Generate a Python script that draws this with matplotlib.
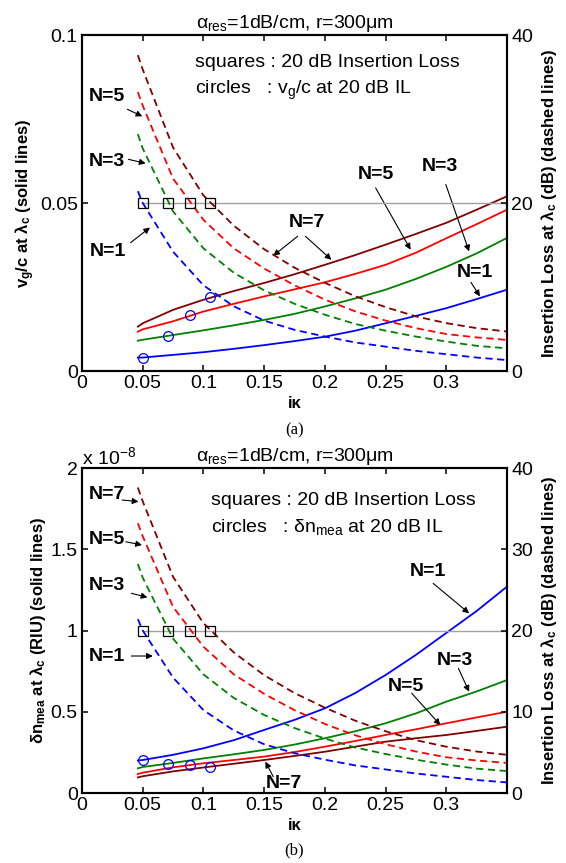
import numpy as np
import matplotlib.pyplot as plt

plt.rcParams['font.family'] = ['Liberation Sans', 'DejaVu Sans']
plt.rcParams['mathtext.default'] = 'regular'

# coupling coefficient grid
kappa = [0.046, 0.05, 0.075, 0.1, 0.125, 0.15, 0.175, 0.2, 0.225, 0.25, 0.275, 0.3, 0.325, 0.35]

# (a) group velocity v_g/c (solid)
vg_n1 = [0.0040, 0.0040, 0.0048, 0.0056, 0.0066, 0.0077, 0.0089, 0.0102, 0.0120, 0.0142, 0.0164, 0.0187, 0.0214, 0.0242]
vg_n3 = [0.0090, 0.0093, 0.0107, 0.0121, 0.0136, 0.0152, 0.0170, 0.0192, 0.0216, 0.0242, 0.0274, 0.0310, 0.0350, 0.0396]
vg_n5 = [0.0117, 0.0124, 0.0148, 0.0177, 0.0200, 0.0222, 0.0243, 0.0264, 0.0289, 0.0316, 0.0352, 0.0395, 0.0437, 0.0480]
vg_n7 = [0.0132, 0.0142, 0.0182, 0.0212, 0.0238, 0.0262, 0.0288, 0.0316, 0.0345, 0.0376, 0.0408, 0.0441, 0.0480, 0.0520]

# (b) minimum detectable index change, units of 1e-8 (solid)
dn_n1 = [0.200, 0.203, 0.235, 0.275, 0.325, 0.388, 0.450, 0.521, 0.615, 0.726, 0.850, 0.985, 1.120, 1.270]
dn_n3 = [0.152, 0.160, 0.185, 0.213, 0.238, 0.265, 0.298, 0.337, 0.380, 0.429, 0.490, 0.562, 0.625, 0.695]
dn_n5 = [0.117, 0.125, 0.158, 0.183, 0.203, 0.224, 0.252, 0.285, 0.320, 0.357, 0.392, 0.429, 0.465, 0.500]
dn_n7 = [0.096, 0.103, 0.133, 0.157, 0.180, 0.203, 0.228, 0.254, 0.285, 0.316, 0.337, 0.357, 0.382, 0.408]

# insertion loss at lambda_c in dB (dashed), same in both panels
il_n1 = [21.4, 20.0, 14.2, 10.2, 7.7, 6.0, 4.9, 4.1, 3.4, 2.9, 2.4, 2.0, 1.6, 1.3]
il_n3 = [28.2, 26.5, 19.0, 14.6, 11.7, 9.6, 8.0, 6.7, 5.6, 4.8, 4.1, 3.5, 3.0, 2.7]
il_n5 = [33.2, 31.6, 22.9, 18.0, 14.6, 12.2, 10.2, 8.5, 7.1, 6.0, 5.1, 4.4, 4.0, 3.7]
il_n7 = [37.6, 35.9, 26.6, 20.9, 17.3, 14.5, 12.3, 10.5, 8.9, 7.6, 6.5, 5.7, 5.1, 4.7]

# 20 dB insertion loss points
kappa_20dB = [0.05, 0.071, 0.089, 0.105]
il_20dB = [20, 20, 20, 20]
vg_20dB = [0.0040, 0.0105, 0.0166, 0.0220]
dn_20dB = [0.203, 0.178, 0.170, 0.162]

colors = ["#0000ff", "#008000", "#ff0000", "#800000"]

W, H = 566, 863
fig = plt.figure(figsize=(W / 100, H / 100), dpi=100)
L, R = 82, 507
ax_a = fig.add_axes([L / W, 1 - 371 / H, (R - L) / W, (371 - 35) / H])
ax_b = fig.add_axes([L / W, 1 - 793 / H, (R - L) / W, (793 - 468) / H])

title = "α$_{res}$=1dB/cm, r=300μm"
tick_fs = 14
lab_fs = 12
ann_fs = 14
txt_fs = 14


def setup(ax, ylim, yticks, ylabels, r_ticks, left_label):
    ax2 = ax.twinx()
    ax.set_xlim(0, 0.35)
    ax.set_ylim(*ylim)
    ax2.set_ylim(0, 40)
    ax.set_xticks([0, 0.05, 0.1, 0.15, 0.2, 0.25, 0.3])
    ax.set_xticklabels(["0", "0.05", "0.1", "0.15", "0.2", "0.25", "0.3"])
    ax.set_yticks(yticks)
    ax.set_yticklabels(ylabels)
    ax2.set_yticks(r_ticks)
    ax2.set_yticklabels([str(t) for t in r_ticks])
    for a in (ax, ax2):
        a.tick_params(direction="in", length=4, width=1.1, labelsize=tick_fs, pad=3)
        for s in a.spines.values():
            s.set_linewidth(1.5)
    ax.tick_params(top=True)
    ax.set_title(title, fontsize=14, pad=5)
    ax.set_xlabel("iκ", fontsize=lab_fs, fontweight="bold", labelpad=3)
    ax.set_ylabel(left_label, fontsize=lab_fs, fontweight="bold", labelpad=2)
    ax2.set_ylabel("Insertion Loss at λ$_c$ (dB) (dashed lines)", fontsize=lab_fs,
                   fontweight="bold", labelpad=4)
    return ax2


def arrow(ax, tail, head):
    ax.annotate("", xy=head, xytext=tail,
                arrowprops=dict(arrowstyle="-|>", color="k", lw=0.8,
                                mutation_scale=9, shrinkA=0, shrinkB=0))


def label(ax, x, y, s):
    ax.text(x, y, s, fontsize=ann_fs, fontweight="bold", ha="center", va="center")


xmid = (L + R) / 2 / W

# ---------------- panel (a) ----------------
ax2a = setup(ax_a, (0, 0.1), [0, 0.05, 0.1], ["0", "0.05", "0.1"], [0, 20, 40],
             "v$_g$/c at λ$_c$ (solid lines)")
for vals, c in zip([vg_n1, vg_n3, vg_n5, vg_n7], colors):
    ax_a.plot(kappa, vals, "-", color=c, lw=1.3)
for vals, c in zip([il_n1, il_n3, il_n5, il_n7], colors):
    ax2a.plot(kappa, vals, "--", color=c, lw=1.3, dashes=(4, 2.5))
ax2a.plot([0.05, 0.35], [20, 20], color="#a0a0a0", lw=1.0, zorder=1)
ax2a.plot(kappa_20dB, il_20dB, "s", mfc="none", mec="k", ms=7, mew=0.9)
ax_a.plot(kappa_20dB, vg_20dB, "o", mfc="none", mec="b", ms=7, mew=0.9)

ax_a.text(0.093, 0.0919, "squares : 20 dB Insertion Loss", fontsize=txt_fs, va="center")
ax_a.text(0.093, 0.0835, "circles   : v$_g$/c at 20 dB IL", fontsize=txt_fs, va="center")

label(ax_a, 0.0204, 0.0818, "N=5")
arrow(ax_a, (0.0373, 0.0779), (0.0497, 0.0758))
label(ax_a, 0.0204, 0.0624, "N=3")
arrow(ax_a, (0.0382, 0.0630), (0.0524, 0.0618))
label(ax_a, 0.0213, 0.0355, "N=1")
arrow(ax_a, (0.0400, 0.0382), (0.0560, 0.0427))
label(ax_a, 0.1856, 0.0442, "N=7")
arrow(ax_a, (0.1776, 0.0401), (0.1575, 0.0343))
arrow(ax_a, (0.1840, 0.0401), (0.2054, 0.0331))
label(ax_a, 0.2418, 0.0585, "N=5")
arrow(ax_a, (0.2418, 0.0545), (0.2706, 0.0361))
label(ax_a, 0.2951, 0.0610, "N=3")
arrow(ax_a, (0.2996, 0.0555), (0.3188, 0.0356))
label(ax_a, 0.3233, 0.0292, "N=1")
arrow(ax_a, (0.3203, 0.0264), (0.3277, 0.0222))

fig.text(xmid, 1 - 430 / H, "(a)", fontsize=12, family="Liberation Serif",
         ha="center", va="center")

# ---------------- panel (b) ----------------
ax2b = setup(ax_b, (0, 2), [0, 0.5, 1, 1.5, 2], ["0", "0.5", "1", "1.5", "2"],
             [0, 10, 20, 30, 40], "δn$_{mea}$ at λ$_c$ (RIU) (solid lines)")
for vals, c in zip([dn_n1, dn_n3, dn_n5, dn_n7], colors):
    ax_b.plot(kappa, vals, "-", color=c, lw=1.3)
for vals, c in zip([il_n1, il_n3, il_n5, il_n7], colors):
    ax2b.plot(kappa, vals, "--", color=c, lw=1.3, dashes=(4, 2.5))
ax2b.plot([0.05, 0.35], [20, 20], color="#a0a0a0", lw=1.0, zorder=1)
ax2b.plot(kappa_20dB, il_20dB, "s", mfc="none", mec="k", ms=7, mew=0.9)
ax_b.plot(kappa_20dB, dn_20dB, "o", mfc="none", mec="b", ms=7, mew=0.9)

ax_b.text(0.1066, 1.803, "squares : 20 dB Insertion Loss", fontsize=txt_fs, va="center")
ax_b.text(0.1066, 1.635, "circles   : δn$_{mea}$ at 20 dB IL", fontsize=txt_fs, va="center")
ax_b.text(0.0, 2.0, "x 10$^{-8}$", fontsize=14, ha="left", va="bottom")

label(ax_b, 0.0207, 1.834, "N=7")
arrow(ax_b, (0.0331, 1.803), (0.0465, 1.793))
label(ax_b, 0.0207, 1.557, "N=5")
arrow(ax_b, (0.0361, 1.546), (0.0494, 1.526))
label(ax_b, 0.0207, 1.280, "N=3")
arrow(ax_b, (0.0406, 1.229), (0.0539, 1.204))
label(ax_b, 0.0207, 0.839, "N=1")
arrow(ax_b, (0.0406, 0.843), (0.0583, 0.843))
label(ax_b, 0.2848, 1.362, "N=1")
arrow(ax_b, (0.2892, 1.290), (0.3188, 1.106))
label(ax_b, 0.3070, 0.818, "N=3")
arrow(ax_b, (0.3100, 0.767), (0.3188, 0.623))
label(ax_b, 0.2670, 0.654, "N=5")
arrow(ax_b, (0.2715, 0.614), (0.2951, 0.418))
label(ax_b, 0.1663, 0.060, "N=7")
arrow(ax_b, (0.1575, 0.100), (0.1510, 0.193))

fig.text(xmid, 1 - 850 / H, "(b)", fontsize=12, family="Liberation Serif",
         ha="center", va="center")

fig.savefig("out.png", dpi=100)
